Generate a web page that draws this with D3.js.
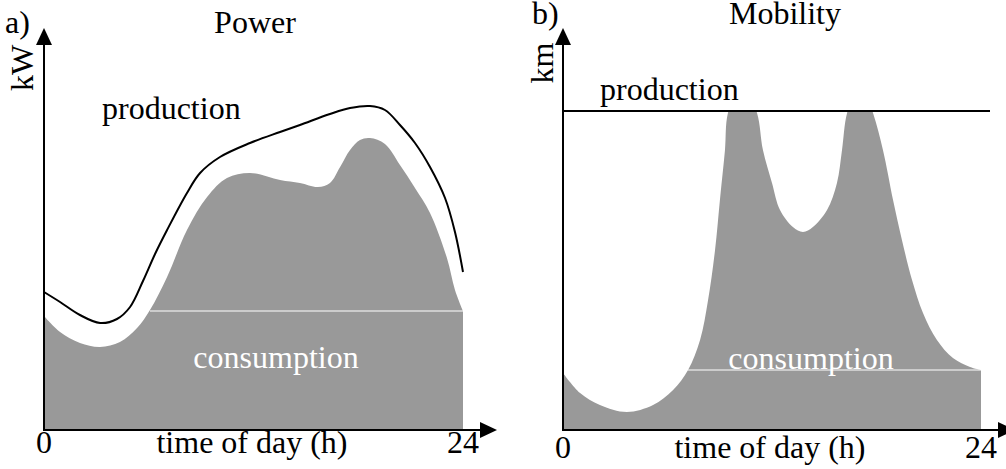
<!DOCTYPE html>
<html>
<head>
<meta charset="utf-8">
<script src="https://d3js.org/d3.v7.min.js"></script>
<style>
  body { margin: 0; background: #fff; }
  svg text { font-family: "Liberation Serif", "Times New Roman", serif; }
</style>
</head>
<body>
<div id="chart"></div>
<script>
// ---- data (hours of day, arbitrary level 0..100) ----
var powerHours = [0, 0.92, 2.06, 3.21, 4.35, 5.33, 6.07, 7.05, 8.19, 9.34, 10.48, 11.8, 13.52, 14.66,
                  15.69, 16.38, 16.96, 17.53, 18.1, 18.67, 19.53, 20.39, 21.25, 22.11, 23.08, 23.54, 24]
var powerConsumption = [28.5, 24.5, 21.75, 20.75, 22, 25.5, 30, 38.25, 50, 58.25, 63, 64.25, 62.5, 61.75,
                        60.75, 61.75, 65.75, 70, 72.5, 73, 71.5, 66.25, 60.5, 54.25, 43, 35, 29.75]
var prodHours = [0, 0.92, 2.06, 3.21, 4.18, 4.93, 5.67, 6.36, 7.05, 8.19, 8.94, 10.08, 11.8,
                 13.52, 14.66, 16.38, 17.53, 18.67, 19.53, 20.39, 21.25, 22.11, 22.97, 23.54, 24]
var powerProduction = [34.5, 32, 28.75, 26.75, 27.75, 30.75, 37.25, 44, 50, 59.25, 64.25, 68.25, 71.75,
                       74.5, 76.25, 79, 80.5, 81, 80, 76.25, 71.75, 65.75, 58, 49.5, 39.5]
var powerBase = { level: 29.75, from: 6.07 }

var mobHours = [0, 0.98, 2.12, 3.67, 5.17, 6.32, 7.18, 7.87, 8.33, 8.73, 9.01, 9.3, 9.47, 10.28,
                11.14, 11.48, 12, 12.46, 13.2, 13.78, 14.35, 15.16, 15.73, 16.02, 16.31, 17.05, 17.8, 18.37,
                18.95, 19.46, 20.04, 20.67, 21.47, 22.39, 23.37, 24]
var mobConsumption = [14.25, 9.25, 6.25, 4.5, 6.25, 10, 15, 22.5, 32.5, 45, 57.5, 70, 79.25, 87.5,
                      79.25, 70, 61.75, 55, 50.75, 49.5, 50.75, 55, 61.75, 70, 79.25, 87.5, 79.25, 70,
                      57.5, 47.5, 37.5, 29.25, 22.5, 18, 15.75, 15]
var mobProduction = 79.75
var mobBase = { level: 15, from: 7.18 }

var W = 1006, H = 469
var svg = d3.select("#chart").append("svg").attr("width", W).attr("height", H)

var y = d3.scaleLinear().domain([0, 100]).range([430, 30])

function zip(xs, vs) { return xs.map(function(h, i) { return { h: h, v: vs[i] } }) }

function arrowUp(g, x, tipY) {
  g.append("path").attr("d", "M" + (x - 8) + "," + (tipY + 17) + "L" + x + "," + tipY + "L" + (x + 8) + "," + (tipY + 17) + "Z")
    .attr("fill", "#000")
}
function arrowRight(g, tipX, yy) {
  g.append("path").attr("d", "M" + (tipX - 17) + "," + (yy - 8) + "L" + tipX + "," + yy + "L" + (tipX - 17) + "," + (yy + 8) + "Z")
    .attr("fill", "#000")
}
function label(g, txt, x, yy, anchor, fill) {
  return g.append("text").attr("x", x).attr("y", yy).attr("text-anchor", anchor || "middle")
    .attr("font-size", "32px").attr("fill", fill || "#000").text(txt)
}

var smooth = d3.curveCatmullRom.alpha(0.5)
var area = function(xs) {
  return d3.area().x(function(d) { return xs(d.h) }).y0(y(0)).y1(function(d) { return y(d.v) })
    .curve(smooth)
}
var line = function(xs) {
  return d3.line().x(function(d) { return xs(d.h) }).y(function(d) { return y(d.v) })
    .curve(smooth)
}

// ---------- panel a) Power ----------
var xa = d3.scaleLinear().domain([0, 24]).range([44, 463])
var ga = svg.append("g")

ga.append("path").datum(zip(powerHours, powerConsumption))
  .attr("d", area(xa))
  .attr("fill", "#999999")
ga.append("line").attr("x1", xa(powerBase.from)).attr("x2", xa(24))
  .attr("y1", y(powerBase.level)).attr("y2", y(powerBase.level))
  .attr("stroke", "#fff").attr("stroke-width", 1.2)
ga.append("path").datum(zip(prodHours, powerProduction))
  .attr("d", line(xa))
  .attr("fill", "none").attr("stroke", "#000").attr("stroke-width", 2)

// axes
ga.append("line").attr("x1", xa(0)).attr("x2", 484).attr("y1", y(0)).attr("y2", y(0)).attr("stroke", "#000").attr("stroke-width", 2)
ga.append("line").attr("x1", xa(0)).attr("x2", xa(0)).attr("y1", y(0) + 1).attr("y2", 40).attr("stroke", "#000").attr("stroke-width", 2)
arrowUp(ga, xa(0), 28)
arrowRight(ga, 497, y(0))

label(ga, "a)", 5, 33, "start")
label(ga, "Power", 255, 33)
label(ga, "kW", 0, 0).attr("transform", "translate(33,68) rotate(-90)")
label(ga, "production", 102, 119, "start")
label(ga, "consumption", 276, 368, "middle", "#fff")
label(ga, "0", xa(0), 453)
label(ga, "time of day (h)", 252, 453)
label(ga, "24", xa(24), 453)

// ---------- panel b) Mobility ----------
var xb = d3.scaleLinear().domain([0, 24]).range([563, 981])
var gb = svg.append("g")

svg.append("clipPath").attr("id", "capB").append("rect")
  .attr("x", xb(0)).attr("y", y(mobProduction)).attr("width", xb(24) - xb(0)).attr("height", y(0) - y(mobProduction))

gb.append("path").datum(zip(mobHours, mobConsumption))
  .attr("d", area(xb))
  .attr("fill", "#999999").attr("clip-path", "url(#capB)")
gb.append("line").attr("x1", xb(mobBase.from)).attr("x2", xb(24))
  .attr("y1", y(mobBase.level)).attr("y2", y(mobBase.level))
  .attr("stroke", "#fff").attr("stroke-width", 1.2)
gb.append("line").attr("x1", xb(0)).attr("x2", 990)
  .attr("y1", y(mobProduction)).attr("y2", y(mobProduction))
  .attr("stroke", "#000").attr("stroke-width", 2)

gb.append("line").attr("x1", xb(0)).attr("x2", 1000).attr("y1", y(0)).attr("y2", y(0)).attr("stroke", "#000").attr("stroke-width", 2)
gb.append("line").attr("x1", xb(0)).attr("x2", xb(0)).attr("y1", y(0) + 1).attr("y2", 40).attr("stroke", "#000").attr("stroke-width", 2)
arrowUp(gb, xb(0), 28)
arrowRight(gb, 1015, y(0))

label(gb, "b)", 532, 24, "start")
label(gb, "Mobility", 785, 24)
label(gb, "km", 0, 0).attr("transform", "translate(553,63) rotate(-90)")
label(gb, "production", 600, 100, "start")
label(gb, "consumption", 811, 369, "middle", "#fff")
label(gb, "0", xb(0), 458)
label(gb, "time of day (h)", 770, 458)
label(gb, "24", xb(24), 458)
</script>
</body>
</html>
